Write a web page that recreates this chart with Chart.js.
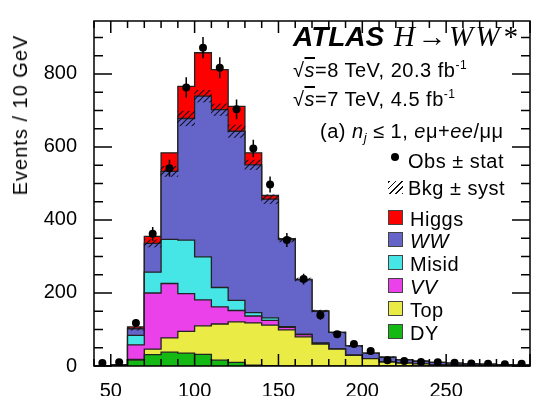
<!DOCTYPE html>
<html>
<head>
<meta charset="utf-8">
<script src="https://cdn.jsdelivr.net/npm/chart.js@4.4.1/dist/chart.umd.min.js"></script>
<style>
  body { margin: 0; background: #fff; }
  #wrap { position: relative; width: 534px; height: 396px; font-family: "Liberation Sans", Arial, sans-serif; color: #000; }
  #wrap canvas { position: absolute; left: 0; top: 0; }
  .t { position: absolute; font-size: 20px; line-height: 20px; white-space: nowrap; letter-spacing: 0.5px; }
  .serif { font-family: "Liberation Serif", "Times New Roman", serif; font-style: italic; }
  .ov { text-decoration: overline; font-style: italic; }
  sup { font-size: 12px; line-height: 0; vertical-align: 8px; }
  sub { font-size: 13px; line-height: 0; vertical-align: -4px; }
  .box { position: absolute; width: 13px; height: 13px; border: 1px solid #444; }
  .dot { position: absolute; width: 8px; height: 8px; border-radius: 50%; background: #000; }
  .hatch { position: absolute; width: 15px; height: 13px;
    background: repeating-linear-gradient(-45deg, #111 0 1.3px, transparent 1.3px 4.5px); }
</style>
</head>
<body>
<div id="wrap">
  <canvas id="mtChart" width="534" height="396"></canvas>

  <div class="t" id="ytitle" style="left:20px;top:115px;transform:translate(-50%,-50%) rotate(-90deg);letter-spacing:1px">Events / 10 GeV</div>

  <div class="t" style="left:293px;top:22px;font-size:28px;line-height:28px;letter-spacing:0"><b><i>ATLAS</i></b><span class="serif" style="font-size:29px;letter-spacing:2.5px"> H→WW*</span></div>
  <div class="t" style="left:293px;top:60px">√<span class="ov">s</span>=8 TeV, 20.3 fb<sup>-1</sup></div>
  <div class="t" style="left:293px;top:89px">√<span class="ov">s</span>=7 TeV, 4.5 fb<sup>-1</sup></div>
  <div class="t" style="left:320px;top:121px">(a) <i>n<sub>j</sub></i> ≤ 1, <i>e</i>μ+<i>ee</i>/μμ</div>

  <div class="dot" style="left:391px;top:153px"></div>
  <div class="t" style="left:408px;top:151px">Obs ± stat</div>
  <div class="hatch" style="left:388px;top:181px"></div>
  <div class="t" style="left:408px;top:178px">Bkg ± syst</div>

  <div id="legend"></div>
</div>

<script>
// m_T bins, 10 GeV wide, given by their lower edge
const binLow = [40, 50, 60, 70, 80, 90, 100, 110, 120, 130, 140, 150, 160, 170, 180, 190, 200, 210, 220, 230, 240, 250, 260, 270, 280, 290];
const binWidth = 10;

// expected events per bin, one array per process
const dy       = [0, 1, 16, 31, 38, 35, 32, 16, 10, 2, 1, 0, 0, 0, 0, 0, 0, 0, 0, 0, 0, 0, 0, 0, 0, 0];
const topQuark = [0, 0, 2, 15, 39, 60, 78, 99, 111, 116, 111, 99, 80, 60, 46, 29, 20, 11, 8, 6, 4, 3, 2, 2, 1, 1];
const vv       = [0, 1, 40, 154, 149, 103, 71, 47, 31, 19, 13, 7, 6, 2, 1, 1, 0, 0, 0, 0, 0, 0, 0, 0, 0, 0];
const misid    = [0, 1, 26, 57, 121, 147, 118, 53, 28, 9, 7, 2, 1, 1, 0, 0, 0, 0, 0, 0, 0, 0, 0, 0, 0, 0];
const ww       = [1, 1, 18, 79, 186, 333, 440, 487, 463, 405, 325, 238, 149, 87, 45, 25, 15, 13, 9, 7, 6, 5, 4, 3, 3, 2];
const higgs    = [0, 0, 5, 19, 51, 88, 119, 110, 68, 33, 10, 3, 1, 1, 0, 0, 0, 0, 0, 0, 0, 0, 0, 0, 0, 0];

// systematic band half-width on the total background
const bkgSyst  = [0, 0, 4, 10, 14, 20, 16, 16, 17, 13, 12, 6, 5, 3, 2, 2, 1, 1, 1, 1, 0, 0, 0, 0, 0, 0];

// observed data and statistical errors
const obs      = [8, 10, 118, 362, 542, 763, 872, 817, 703, 596, 497, 345, 238, 139, 87, 60, 41, 16, 14, 11, 10, 9, 7, 6, 5, 6];
const obsErr   = [3, 3, 11, 19, 23, 28, 29, 29, 27, 24, 22, 19, 15, 12, 9, 8, 6, 4, 4, 3, 3, 3, 3, 2, 2, 2];

const xTickValues = [50, 100, 150, 200, 250];
const yTickValues = [0, 200, 400, 600, 800];

// bottom to top of the stack
const layers = [
  { name: 'DY',    values: dy,       color: '#14b914' },
  { name: 'Top',   values: topQuark, color: '#ebeb46' },
  { name: 'VV',    values: vv,       color: '#eb41eb', italic: true },
  { name: 'Misid', values: misid,    color: '#46e6e6' },
  { name: 'WW',    values: ww,       color: '#6565c9', italic: true },
  { name: 'Higgs', values: higgs,    color: '#ff0000' }
];

const loadMtChart = () => {
  const ctx = document.getElementById('mtChart').getContext('2d');

  // running sums so each layer is filled from zero up to its own top
  let running = binLow.map(() => 0);
  const cumulative = layers.map(l => {
    running = running.map((v, i) => v + l.values[i]);
    return running;
  });
  const bkgTotal = cumulative[4];
  const lastEdge = binLow[binLow.length - 1] + binWidth;

  // 'before' in chart.js = horizontal at the previous value, then the vertical jump
  const stackSets = layers.map((l, k) => {
    const c = cumulative[k];
    const pts = binLow.map((x, i) => ({ x: x, y: c[i] }));
    pts.push({ x: lastEdge, y: c[c.length - 1] });
    return {
      type: 'line',
      label: l.name,
      data: pts,
      stepped: 'before',
      fill: 'origin',
      backgroundColor: l.color,
      borderColor: '#222',
      borderWidth: 1.3,
      pointRadius: 0,
      order: 2 + k
    };
  });

  // diagonal hatching for the syst band
  const tile = document.createElement('canvas');
  tile.width = 6; tile.height = 6;
  const tc = tile.getContext('2d');
  tc.strokeStyle = 'rgba(15,15,35,0.95)';
  tc.lineWidth = 1.2;
  tc.beginPath();
  tc.moveTo(0, 6); tc.lineTo(6, 0);
  tc.moveTo(-1, 1); tc.lineTo(1, -1);
  tc.moveTo(5, 7); tc.lineTo(7, 5);
  tc.stroke();
  const hatch = ctx.createPattern(tile, 'repeat');

  const bandSet = {
    type: 'bar',
    label: 'Bkg ± syst',
    data: binLow.map((x, i) => ({ x: x + binWidth / 2, y: [bkgTotal[i] - bkgSyst[i], bkgTotal[i] + bkgSyst[i]] })),
    backgroundColor: hatch,
    borderWidth: 0,
    barPercentage: 1,
    categoryPercentage: 1,
    order: 1
  };

  const obsSet = {
    type: 'line',
    label: 'Obs ± stat',
    data: binLow.map((x, i) => ({ x: x + binWidth / 2, y: obs[i] })),
    showLine: false,
    pointRadius: 4,
    pointBackgroundColor: '#000',
    pointBorderWidth: 0,
    order: 0
  };

  const obsErrorBars = {
    id: 'obsErrorBars',
    afterDatasetsDraw(chart) {
      const { ctx, chartArea: a, scales: { x, y } } = chart;
      ctx.save();
      ctx.beginPath();
      ctx.rect(a.left, a.top, a.right - a.left, a.bottom - a.top);
      ctx.clip();
      ctx.strokeStyle = '#000';
      ctx.lineWidth = 1.5;
      ctx.beginPath();
      binLow.forEach((lo, i) => {
        const px = x.getPixelForValue(lo + binWidth / 2);
        ctx.moveTo(px, y.getPixelForValue(obs[i] - obsErr[i]));
        ctx.lineTo(px, y.getPixelForValue(obs[i] + obsErr[i]));
      });
      ctx.stroke();
      ctx.restore();
    }
  };

  // box round the plot with inward ticks on all four sides
  const frameTicks = {
    id: 'frameTicks',
    afterDraw(chart) {
      const { ctx, chartArea: a, scales: { x, y } } = chart;
      ctx.save();
      ctx.strokeStyle = '#000';
      ctx.lineWidth = 1.5;
      ctx.strokeRect(a.left, a.top, a.right - a.left, a.bottom - a.top);
      ctx.beginPath();
      for (let v = x.min; v <= x.max; v += 10) {
        const len = v % 50 === 0 ? 12 : 7;
        const px = x.getPixelForValue(v);
        ctx.moveTo(px, a.bottom); ctx.lineTo(px, a.bottom - len);
        ctx.moveTo(px, a.top); ctx.lineTo(px, a.top + len);
      }
      for (let v = 0; v <= y.max; v += 50) {
        const len = v % 200 === 0 ? 18 : 9;
        const py = y.getPixelForValue(v);
        ctx.moveTo(a.left, py); ctx.lineTo(a.left + len, py);
        ctx.moveTo(a.right, py); ctx.lineTo(a.right - len, py);
      }
      ctx.stroke();
      ctx.restore();
    }
  };

  const tickFont = { family: 'Liberation Sans', size: 20 };

  const config = {
    type: 'line',
    data: { datasets: [...stackSets, bandSet, obsSet] },
    options: {
      responsive: false,
      animation: false,
      layout: { padding: { top: 7, right: 1, left: 0, bottom: 0 } },
      plugins: { legend: { display: false }, tooltip: { enabled: false } },
      scales: {
        x: {
          type: 'linear',
          min: 40,
          max: 300,
          offset: false,
          grid: { display: false },
          border: { display: false },
          afterBuildTicks: s => { s.ticks = xTickValues.map(v => ({ value: v })); },
          afterFit: s => { s.height = 30; },
          ticks: { color: '#000', font: tickFont, padding: 5, maxRotation: 0, autoSkip: false }
        },
        y: {
          type: 'linear',
          min: 0,
          max: 945,
          grid: { display: false },
          border: { display: false },
          afterBuildTicks: s => { s.ticks = yTickValues.map(v => ({ value: v })); },
          afterFit: s => { s.width = 94; },
          ticks: { color: '#000', font: tickFont, padding: 9, autoSkip: false }
        }
      }
    },
    plugins: [obsErrorBars, frameTicks]
  };

  new Chart(ctx, config);
};

const buildLegend = () => {
  const holder = document.getElementById('legend');
  const rows = layers.slice().reverse();
  rows.forEach((l, i) => {
    const rowTop = 208.5 + i * 22.9;
    const box = document.createElement('div');
    box.className = 'box';
    box.style.left = '388px';
    box.style.top = (rowTop + 1) + 'px';
    box.style.background = l.color;
    const label = document.createElement('div');
    label.className = 't';
    label.style.left = '410px';
    label.style.top = rowTop + 'px';
    label.innerHTML = l.italic ? '<i>' + l.name + '</i>' : l.name;
    holder.appendChild(box);
    holder.appendChild(label);
  });
};

loadMtChart();
buildLegend();
</script>
</body>
</html>
